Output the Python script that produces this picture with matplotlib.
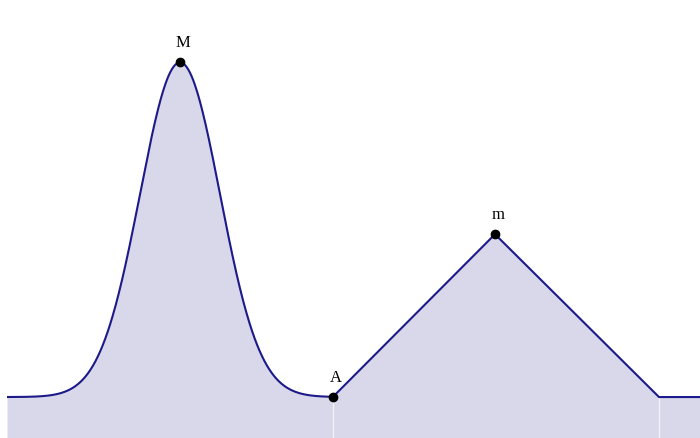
import numpy as np
import matplotlib
matplotlib.use("Agg")
import matplotlib.pyplot as plt

# curve pieces (x in px-like units, y height above baseline)
x_start, x_end = 7, 700
peak_center, peak_sigma, peak_height = 180, 40, 335
tri_x = [333, 495, 659]
tri_y = [0, 163, 0]
floor_y = -41

point_names = ["M", "A", "m"]
point_x = [180, 333, 495]
point_y = [335, 0, 163]

line_color = "#1c1a8a"
fill_color = "#d9d8ea"

# bell part, then triangle, then flat tail
xb = np.linspace(x_start, tri_x[0], 400)
yb = peak_height * np.exp(-0.5 * ((xb - peak_center) / peak_sigma) ** 2)
xs = np.concatenate([xb, tri_x[1:], [x_end]])
ys = np.concatenate([yb, tri_y[1:], [0]])

fig = plt.figure(figsize=(7, 4.39), dpi=100)
ax = fig.add_axes([0, 0, 1, 1])
ax.fill_between(xs, ys, floor_y, color=fill_color, linewidth=0)
for xv in [tri_x[0], tri_x[2]]:
    ax.plot([xv, xv], [floor_y, 0], color="white", lw=0.9, alpha=0.7)
ax.plot(xs, ys, color=line_color, lw=1.5, solid_capstyle="butt")

ax.plot(point_x, point_y, "o", color="black", markersize=6, zorder=5)
for name, px, py in zip(point_names, point_x, point_y):
    ax.annotate(name, (px, py), xytext=(2, 9), textcoords="offset points",
                ha="center", va="bottom", fontsize=12,
                family="Liberation Serif")

ax.set_xlim(0, 700)
ax.set_ylim(floor_y, 398.5)
ax.axis("off")

plt.savefig("out.png", dpi=100)
plt.close()
